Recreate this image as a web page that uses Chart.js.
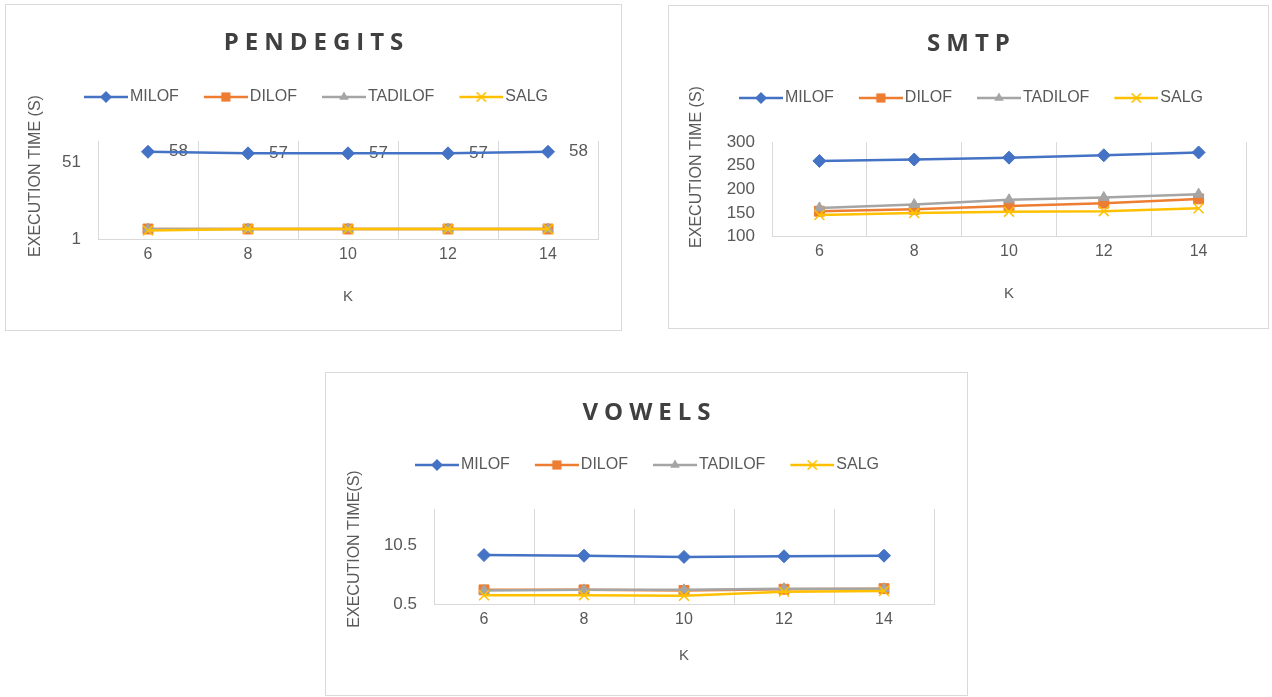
<!DOCTYPE html>
<html>
<head>
  <meta charset="utf-8">
  <title>Execution time vs K</title>
  <script src="https://cdn.jsdelivr.net/npm/chart.js"></script>
  <style>
    body {
      margin: 0;
      background: #fff;
      font-family: 'Liberation Sans', Arial, sans-serif;
    }
    .box {
      position: absolute;
      border: 1px solid #d9d9d9;
      background: #fff;
    }
    .box .wrap {
      position: absolute;
      left: 0; top: 0; right: 0; bottom: 0;
    }
    .box h2 {
      position: absolute;
      left: 0; right: 0;
      margin: 0;
      padding-left: 6px;
      text-align: center;
      font: bold 24px 'Open Sans', sans-serif;
      line-height: 28px;
      letter-spacing: 6px;
      color: #404040;
      z-index: 2;
    }
    #boxPend { left: 5px; top: 4px; width: 615px; height: 325px; }
    #boxSmtp { left: 668px; top: 5px; width: 599px; height: 322px; }
    #boxVow  { left: 325px; top: 372px; width: 641px; height: 322px; }
  </style>
</head>
<body>

<div class="box" id="boxPend">
  <h2 style="top:22px">PENDEGITS</h2>
  <div class="wrap"><canvas id="pendChart"></canvas></div>
</div>

<div class="box" id="boxSmtp">
  <h2 style="top:22px">SMTP</h2>
  <div class="wrap"><canvas id="smtpChart"></canvas></div>
</div>

<div class="box" id="boxVow">
  <h2 style="top:24px">VOWELS</h2>
  <div class="wrap"><canvas id="vowChart"></canvas></div>
</div>

<script>
  // ----- data -----
  const kLabels = ['6', '8', '10', '12', '14'];
  const seriesNames = ['MILOF', 'DILOF', 'TADILOF', 'SALG'];

  // PENDEGITS
  const pendMilof   = [58, 57, 57, 57, 58];
  const pendDilof   = [8, 8, 8, 8, 8];
  const pendTadilof = [8, 8, 8, 8, 8];
  const pendSalg    = [7, 8, 8, 8, 8];
  const pendTicks   = [1, 51];

  // SMTP
  const smtpMilof   = [260, 263, 267, 272, 278];
  const smtpDilof   = [154, 158, 165, 171, 180];
  const smtpTadilof = [161, 168, 178, 183, 190];
  const smtpSalg    = [146, 150, 153, 154, 160];
  const smtpTicks   = [100, 150, 200, 250, 300];

  // VOWELS
  const vowMilof   = [8.8, 8.7, 8.5, 8.6, 8.7];
  const vowDilof   = [3.0, 3.0, 2.9, 3.1, 3.2];
  const vowTadilof = [2.9, 3.0, 3.0, 3.2, 3.2];
  const vowSalg    = [2.1, 2.1, 2.0, 2.7, 2.8];
  const vowTicks   = [0.5, 10.5];

  // ----- look -----
  const colors = ['#4472C4', '#ED7D31', '#A5A5A5', '#FFC000'];
  const markers = ['rectRot', 'rect', 'triangle', 'crossRot'];
  const radii = [6.5, 7, 6, 7];
  const textGrey = '#595959';
  const gridGrey = '#d9d9d9';
  const fontFamily = "'Liberation Sans', Arial, sans-serif";

  Chart.defaults.font.family = fontFamily;
  Chart.defaults.color = textGrey;

  // legend icon: a short line with the marker in the middle
  function drawMarker(ctx, kind, x, y, r, color) {
    ctx.fillStyle = color;
    ctx.strokeStyle = color;
    ctx.beginPath();
    if (kind === 'rectRot') {
      ctx.moveTo(x - r, y); ctx.lineTo(x, y - r); ctx.lineTo(x + r, y); ctx.lineTo(x, y + r);
      ctx.closePath(); ctx.fill();
    } else if (kind === 'rect') {
      const s = r * Math.SQRT1_2;
      ctx.rect(x - s, y - s, 2 * s, 2 * s); ctx.fill();
    } else if (kind === 'triangle') {
      ctx.moveTo(x, y - r); ctx.lineTo(x + r * 0.87, y + r * 0.5); ctx.lineTo(x - r * 0.87, y + r * 0.5);
      ctx.closePath(); ctx.fill();
    } else {
      const d = r * Math.SQRT1_2;
      ctx.lineWidth = 1.5;
      ctx.moveTo(x - d, y - d); ctx.lineTo(x + d, y + d);
      ctx.moveTo(x + d, y - d); ctx.lineTo(x - d, y + d);
      ctx.stroke();
    }
  }

  const legendIcons = colors.map(function(c, i) {
    const cv = document.createElement('canvas');
    cv.width = 48; cv.height = 16;
    const ctx = cv.getContext('2d');
    ctx.strokeStyle = c;
    ctx.lineWidth = 2.5;
    ctx.beginPath(); ctx.moveTo(4, 8); ctx.lineTo(48, 8); ctx.stroke();
    drawMarker(ctx, markers[i], 26, 8, radii[i] - 0.5, c);
    return cv;
  });

  // extra room between the legend row and the plot
  const legendGap = {
    id: 'legendGap',
    afterInit(chart, args, opts) {
      const legend = chart.legend;
      if (!legend) return;
      const fit = legend.fit;
      legend.fit = function() {
        fit.call(this);
        this.height += opts.gap || 0;
      };
    }
  };

  // value labels to the right of the points of one series
  const pointLabels = {
    id: 'pointLabels',
    beforeDatasetsDraw(chart, args, opts) {
      if (opts.datasetIndex === undefined) return;
      const meta = chart.getDatasetMeta(opts.datasetIndex);
      const values = chart.data.datasets[opts.datasetIndex].data;
      const ctx = chart.ctx;
      ctx.save();
      ctx.font = '17px ' + fontFamily;
      ctx.fillStyle = textGrey;
      ctx.textBaseline = 'middle';
      ctx.textAlign = 'left';
      meta.data.forEach(function(pt, i) {
        ctx.fillText(String(values[i]), pt.x + 21, pt.y);
      });
      ctx.restore();
    }
  };

  // rotated value-axis title, placed like the original (a bit above the plot middle)
  const yTitle = {
    id: 'yTitle',
    afterDraw(chart, args, opts) {
      const ctx = chart.ctx;
      ctx.save();
      ctx.translate(opts.x, opts.y);
      ctx.rotate(-Math.PI / 2);
      ctx.font = '16px ' + fontFamily;
      ctx.fillStyle = textGrey;
      ctx.textAlign = 'center';
      ctx.textBaseline = 'middle';
      ctx.fillText(opts.text, 0, 0);
      ctx.restore();
    }
  };

  function makeDatasets(rows) {
    return rows.map(function(data, i) {
      return {
        label: seriesNames[i],
        data: data,
        borderColor: colors[i],
        backgroundColor: colors[i],
        borderWidth: 2.5,
        pointStyle: markers[i],
        pointRadius: radii[i],
        pointHoverRadius: radii[i],
        pointBorderWidth: i === 3 ? 1.5 : 1,
        pointBackgroundColor: colors[i],
        pointBorderColor: colors[i],
        tension: 0,
        order: 3 - i
      };
    });
  }

  function makeChart(id, rows, cfg) {
    return new Chart(document.getElementById(id), {
      type: 'line',
      data: { labels: kLabels, datasets: makeDatasets(rows) },
      plugins: [legendGap, pointLabels, yTitle],
      options: {
        responsive: true,
        maintainAspectRatio: false,
        animation: false,
        layout: { padding: cfg.padding },
        plugins: {
          title: { display: false },
          tooltip: { enabled: false },
          legendGap: { gap: 26 },
          pointLabels: { datasetIndex: cfg.labelIndex },
          yTitle: { text: cfg.yTitle, x: cfg.yTitleX, y: cfg.yTitleY },
          legend: {
            position: 'top',
            labels: {
              usePointStyle: true,
              pointStyleWidth: 36,
              padding: 27,
              color: textGrey,
              font: { size: 16 },
              generateLabels: function(chart) {
                const items = Chart.defaults.plugins.legend.labels.generateLabels(chart);
                items.sort(function(a, b) { return a.datasetIndex - b.datasetIndex; });
                items.forEach(function(it) {
                  it.pointStyle = legendIcons[it.datasetIndex];
                  it.rotation = 0;
                });
                return items;
              }
            }
          }
        },
        scales: {
          x: {
            offset: true,
            grid: { offset: true, color: gridGrey, drawTicks: false },
            border: { color: gridGrey },
            ticks: { color: textGrey, font: { size: 16 }, padding: 5 },
            title: {
              display: true, text: 'K', color: textGrey,
              font: { size: 15 }, padding: { top: cfg.kGap, bottom: 4 }
            }
          },
          y: {
            min: cfg.min,
            max: cfg.max,
            grid: { display: false, drawTicks: false },
            border: { display: false },
            afterBuildTicks: function(scale) {
              scale.ticks = cfg.ticks.map(function(v) { return { value: v }; });
            },
            afterFit: function(scale) { scale.width = cfg.yWidth; },
            ticks: { color: textGrey, font: { size: 17 }, padding: 17, autoSkip: false }
          }
        }
      }
    });
  }

  makeChart('pendChart', [pendMilof, pendDilof, pendTadilof, pendSalg], {
    min: 1, max: 65, ticks: pendTicks,
    yTitle: 'EXECUTION TIME (S)', yTitleX: 30, yTitleY: 171,
    yWidth: 62, kGap: 19, labelIndex: 0,
    padding: { top: 57, left: 30, right: 23, bottom: 20 }
  });

  makeChart('smtpChart', [smtpMilof, smtpDilof, smtpTadilof, smtpSalg], {
    min: 100, max: 300, ticks: smtpTicks,
    yTitle: 'EXECUTION TIME (S)', yTitleX: 28, yTitleY: 161,
    yWidth: 74, kGap: 19, labelIndex: undefined,
    padding: { top: 57, left: 29, right: 22, bottom: 21 }
  });

  makeChart('vowChart', [vowMilof, vowDilof, vowTadilof, vowSalg], {
    min: 0.5, max: 16.5, ticks: vowTicks,
    yTitle: 'EXECUTION TIME(S)', yTitleX: 29, yTitleY: 176,
    yWidth: 72, kGap: 13, labelIndex: undefined,
    padding: { top: 57, left: 36, right: 33, bottom: 26 }
  });
</script>
</body>
</html>
